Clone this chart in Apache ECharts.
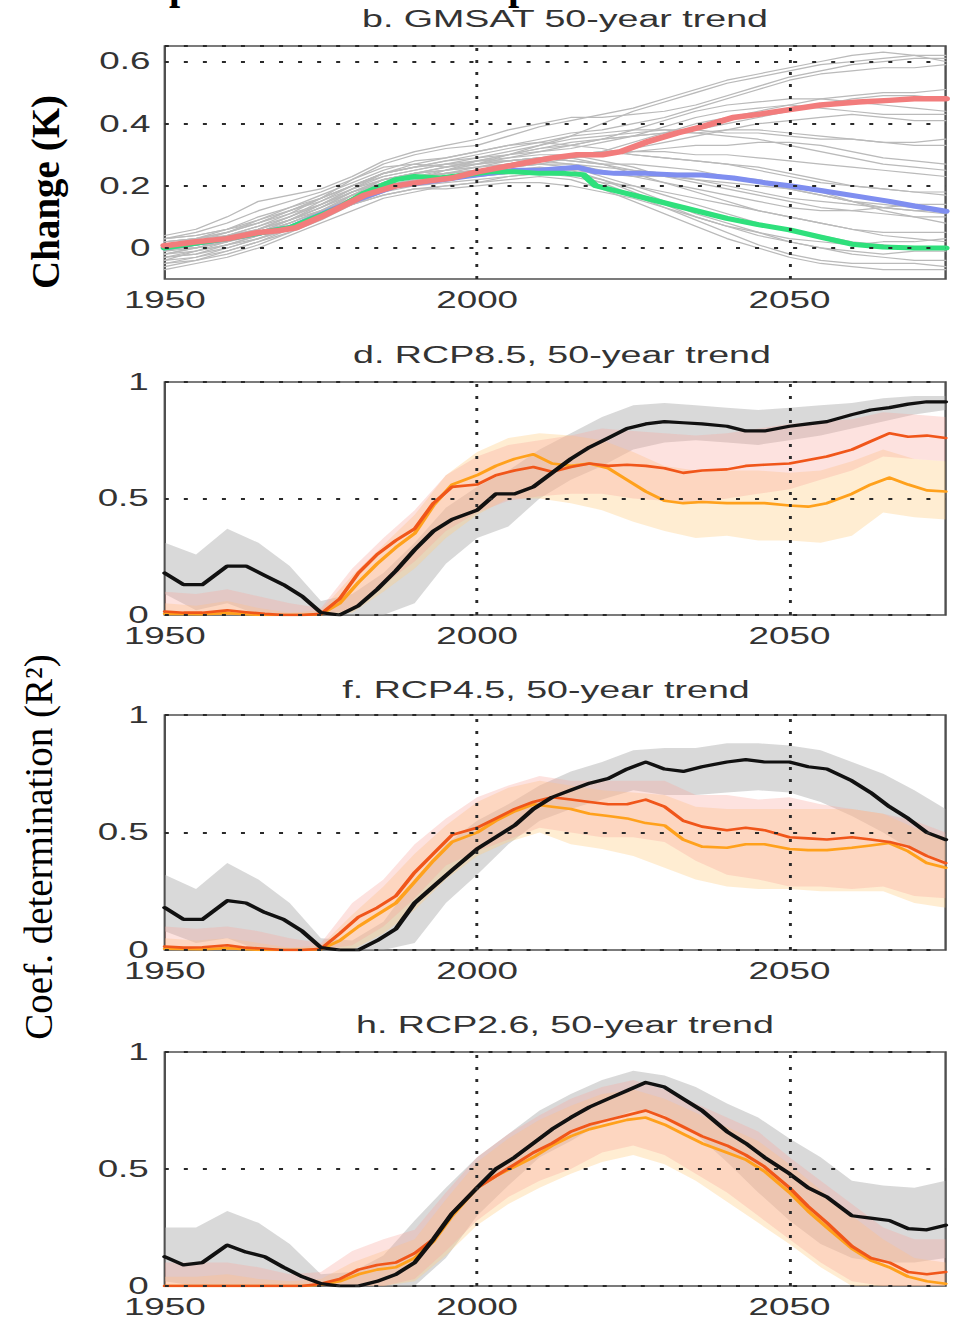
<!DOCTYPE html>
<html><head><meta charset="utf-8">
<script src="https://cdn.jsdelivr.net/npm/echarts@6/dist/echarts.min.js"></script>
<style>
html,body{margin:0;padding:0;background:#fff;overflow:hidden;}
#main{position:absolute;left:0;top:0;width:600px;height:1320px;transform:scaleX(1.6);transform-origin:0 0;}
#over{position:absolute;left:0;top:0;width:960px;height:1320px;pointer-events:none;}
</style></head><body>
<div id="main"></div><div id="over"></div>
<script>
// ---------------- DATA ----------------
const years5 = [1950,1955,1960,1965,1970,1975,1980,1985,1990,1995,2000,2005,2010,2015,2020,2025,2030,2035,2040,2045,2050,2055,2060,2065,2070,2075];

// panel b: model ensemble (GMSAT 50-year trend, K)
const ensRcp85 = [
 [-0.02,0.00,0.02,0.05,0.09,0.14,0.19,0.23,0.25,0.27,0.29,0.31,0.33,0.36,0.40,0.44,0.47,0.50,0.53,0.55,0.57,0.59,0.60,0.61,0.62,0.62],
 [0.03,0.05,0.08,0.12,0.15,0.18,0.22,0.27,0.30,0.32,0.33,0.36,0.39,0.41,0.43,0.45,0.48,0.51,0.54,0.56,0.58,0.60,0.62,0.63,0.62,0.60],
 [-0.05,-0.03,0.00,0.03,0.06,0.10,0.15,0.20,0.22,0.24,0.26,0.28,0.29,0.30,0.31,0.34,0.37,0.40,0.42,0.44,0.46,0.48,0.49,0.50,0.50,0.51],
 [0.01,0.02,0.03,0.04,0.07,0.11,0.17,0.22,0.24,0.25,0.27,0.30,0.32,0.33,0.35,0.38,0.41,0.44,0.46,0.47,0.48,0.48,0.47,0.46,0.45,0.44],
 [-0.03,-0.02,0.01,0.04,0.08,0.12,0.16,0.19,0.21,0.23,0.24,0.26,0.27,0.29,0.30,0.32,0.34,0.36,0.38,0.40,0.41,0.42,0.43,0.42,0.41,0.41],
 [0.02,0.03,0.05,0.09,0.13,0.17,0.21,0.25,0.28,0.29,0.31,0.33,0.35,0.37,0.38,0.40,0.42,0.45,0.48,0.51,0.54,0.56,0.57,0.58,0.58,0.59],
 [-0.01,0.01,0.04,0.07,0.10,0.15,0.20,0.24,0.26,0.28,0.29,0.30,0.31,0.32,0.34,0.36,0.39,0.42,0.44,0.45,0.46,0.45,0.44,0.43,0.43,0.43],
 [0.00,0.02,0.04,0.07,0.11,0.16,0.22,0.26,0.27,0.26,0.27,0.29,0.31,0.33,0.35,0.36,0.37,0.38,0.40,0.42,0.44,0.46,0.48,0.49,0.49,0.48],
 [-0.04,-0.01,0.02,0.06,0.09,0.12,0.14,0.18,0.22,0.25,0.28,0.30,0.33,0.35,0.36,0.37,0.38,0.38,0.37,0.37,0.36,0.35,0.35,0.34,0.34,0.35],
 [0.04,0.06,0.10,0.15,0.17,0.19,0.23,0.28,0.31,0.33,0.35,0.38,0.40,0.42,0.42,0.43,0.44,0.46,0.49,0.52,0.55,0.57,0.59,0.60,0.61,0.61]
];
const ensRcp45 = [
 [-0.02,0.00,0.03,0.06,0.10,0.14,0.18,0.21,0.23,0.24,0.25,0.27,0.29,0.30,0.30,0.31,0.31,0.30,0.30,0.29,0.28,0.27,0.26,0.25,0.24,0.23],
 [0.01,0.02,0.04,0.06,0.09,0.13,0.18,0.22,0.24,0.26,0.28,0.30,0.32,0.34,0.35,0.36,0.37,0.37,0.38,0.38,0.37,0.36,0.35,0.34,0.33,0.33],
 [-0.03,-0.01,0.01,0.04,0.07,0.11,0.15,0.19,0.21,0.22,0.23,0.24,0.25,0.25,0.24,0.23,0.23,0.22,0.21,0.20,0.19,0.17,0.15,0.13,0.12,0.11],
 [0.02,0.03,0.05,0.08,0.12,0.16,0.20,0.23,0.25,0.27,0.28,0.28,0.29,0.28,0.27,0.27,0.26,0.25,0.23,0.21,0.19,0.17,0.15,0.14,0.13,0.12],
 [-0.01,0.00,0.02,0.05,0.09,0.13,0.17,0.20,0.22,0.23,0.24,0.26,0.27,0.27,0.26,0.25,0.24,0.24,0.23,0.22,0.20,0.18,0.15,0.12,0.10,0.08],
 [0.00,0.01,0.03,0.05,0.08,0.12,0.16,0.21,0.24,0.25,0.26,0.27,0.28,0.29,0.30,0.31,0.32,0.33,0.33,0.34,0.34,0.33,0.31,0.29,0.28,0.27],
 [-0.06,-0.04,-0.01,0.02,0.06,0.10,0.14,0.17,0.19,0.20,0.21,0.23,0.24,0.23,0.21,0.20,0.18,0.16,0.14,0.12,0.10,0.08,0.06,0.04,0.03,0.02],
 [0.03,0.04,0.06,0.09,0.12,0.15,0.19,0.24,0.27,0.29,0.31,0.33,0.34,0.33,0.32,0.30,0.29,0.28,0.27,0.26,0.24,0.22,0.20,0.19,0.18,0.17],
 [-0.02,-0.01,0.01,0.03,0.06,0.10,0.15,0.19,0.22,0.24,0.25,0.27,0.29,0.30,0.31,0.30,0.29,0.28,0.27,0.25,0.23,0.21,0.20,0.19,0.18,0.18],
 [0.01,0.03,0.06,0.10,0.13,0.16,0.20,0.24,0.26,0.28,0.30,0.32,0.34,0.36,0.37,0.38,0.38,0.37,0.36,0.35,0.33,0.31,0.29,0.27,0.26,0.25]
];
const ensRcp26 = [
 [-0.03,-0.02,0.00,0.03,0.07,0.12,0.17,0.21,0.23,0.24,0.25,0.26,0.27,0.26,0.23,0.20,0.17,0.14,0.11,0.08,0.06,0.04,0.02,0.01,0.00,0.00],
 [0.00,0.01,0.03,0.06,0.10,0.14,0.19,0.22,0.24,0.26,0.28,0.29,0.30,0.30,0.28,0.26,0.23,0.21,0.19,0.17,0.15,0.13,0.12,0.11,0.10,0.10],
 [-0.07,-0.05,-0.03,0.00,0.04,0.08,0.12,0.16,0.18,0.20,0.21,0.22,0.23,0.22,0.19,0.15,0.11,0.07,0.03,0.00,-0.03,-0.05,-0.06,-0.07,-0.07,-0.07],
 [0.02,0.03,0.04,0.06,0.09,0.13,0.18,0.22,0.24,0.25,0.26,0.27,0.28,0.27,0.25,0.23,0.21,0.19,0.17,0.15,0.13,0.12,0.12,0.13,0.14,0.14],
 [-0.04,-0.03,-0.01,0.02,0.05,0.09,0.14,0.18,0.20,0.21,0.22,0.23,0.24,0.24,0.22,0.19,0.15,0.11,0.08,0.05,0.02,0.00,-0.02,-0.03,-0.04,-0.04],
 [0.01,0.02,0.05,0.08,0.12,0.16,0.20,0.24,0.26,0.27,0.27,0.28,0.29,0.28,0.27,0.25,0.24,0.22,0.20,0.18,0.16,0.15,0.14,0.13,0.12,0.12],
 [-0.01,0.01,0.02,0.04,0.07,0.10,0.14,0.17,0.19,0.19,0.20,0.21,0.21,0.20,0.18,0.16,0.13,0.10,0.07,0.05,0.03,0.02,0.01,0.02,0.02,0.03],
 [0.00,0.00,0.02,0.05,0.08,0.12,0.17,0.21,0.23,0.24,0.25,0.25,0.26,0.25,0.22,0.18,0.14,0.10,0.07,0.04,0.02,0.00,-0.01,-0.02,-0.01,-0.01],
 [-0.05,-0.04,-0.02,0.01,0.05,0.10,0.15,0.19,0.21,0.22,0.23,0.24,0.25,0.24,0.21,0.17,0.13,0.09,0.05,0.01,-0.02,-0.04,-0.05,-0.05,-0.05,-0.06],
 [0.03,0.04,0.06,0.08,0.11,0.14,0.18,0.21,0.23,0.25,0.27,0.28,0.29,0.29,0.27,0.24,0.21,0.18,0.15,0.12,0.10,0.08,0.06,0.05,0.05,0.05]
];

// panel b: scenario means
const redYears = [1950,1955,1960,1965,1968,1971,1975,1978,1982,1987,1992,1996,2000,2004,2008,2012,2016,2020,2023,2027,2032,2036,2041,2045,2050,2055,2061,2066,2070,2075];
const redB = [0.007,0.02,0.03,0.05,0.055,0.065,0.10,0.13,0.17,0.20,0.215,0.225,0.245,0.26,0.275,0.29,0.30,0.30,0.31,0.34,0.37,0.39,0.42,0.43,0.445,0.46,0.47,0.475,0.48,0.48];
const blueYears = [1950,1960,1970,1980,1987,1993,1998,2002,2006,2010,2013,2016,2019,2022,2027,2032,2036,2041,2046,2050,2055,2061,2066,2070,2075];
const blueB = [0.0,0.03,0.065,0.15,0.2,0.215,0.23,0.24,0.25,0.25,0.255,0.26,0.245,0.24,0.24,0.235,0.235,0.225,0.21,0.2,0.185,0.166,0.15,0.135,0.118];
const greenYears = [1950,1960,1970,1978,1982,1987,1990,1994,1998,2002,2006,2010,2014,2017,2019,2022,2026,2030,2035,2040,2045,2050,2055,2060,2065,2070,2075];
const greenB = [0.0,0.03,0.065,0.13,0.177,0.22,0.23,0.225,0.235,0.245,0.245,0.24,0.24,0.236,0.2,0.185,0.165,0.145,0.12,0.095,0.075,0.058,0.035,0.012,0.003,0.0,0.0];

// panels d, f, h: R^2 lines
const lineYears = [1950,1953,1956,1960,1963,1966,1969,1972,1975,1978,1981,1984,1987,1990,1993,1996,2000,2003,2006,2009,2012,2015,2018,2021,2024,2027,2030,2033,2036,2040,2043,2046,2050,2053,2056,2060,2063,2066,2069,2072,2075];

const blackD = [0.18,0.13,0.13,0.21,0.21, 0.17,0.13,0.08,0.01,0.0, 0.04,0.11,0.19,0.28,0.36, 0.41,0.45,0.52,0.52,0.55, 0.61,0.67,0.72,0.76,0.80, 0.82,0.83,0.825,0.82,0.81, 0.79,0.79,0.81,0.82,0.83, 0.86,0.88,0.89,0.905,0.915, 0.915];
const redD = [0.015,0.01,0.01,0.02,0.012, 0.005,0.0,0.0,0.005,0.07, 0.18,0.26,0.32,0.37,0.48, 0.55,0.56,0.60,0.62,0.635, 0.615,0.635,0.65,0.64,0.645, 0.64,0.63,0.61,0.62,0.625, 0.64,0.645,0.65,0.665,0.68, 0.71,0.745,0.78,0.765,0.77, 0.76];
const orangeD = [0.005,0.005,0.003,0.008,0.003, 0.0,0.0,0.0,0.003,0.05, 0.14,0.22,0.29,0.35,0.47, 0.56,0.60,0.64,0.67,0.69, 0.65,0.64,0.65,0.63,0.58, 0.53,0.49,0.48,0.485,0.48, 0.48,0.48,0.47,0.465,0.48, 0.52,0.56,0.59,0.56,0.535, 0.53];

const blackF = [0.18,0.13,0.13,0.21,0.20, 0.16,0.13,0.08,0.01,0.0, 0.0,0.04,0.09,0.20,0.27, 0.34,0.43,0.48,0.53,0.60, 0.65,0.68,0.71,0.73,0.77, 0.80,0.77,0.76,0.78,0.80, 0.81,0.80,0.80,0.78,0.77, 0.72,0.67,0.61,0.56,0.50, 0.47];
const redF = [0.015,0.01,0.012,0.02,0.01, 0.005,0.0,0.0,0.005,0.07, 0.14,0.18,0.23,0.33,0.41, 0.49,0.52,0.56,0.60,0.63, 0.65,0.64,0.63,0.62,0.62, 0.64,0.61,0.55,0.525,0.51, 0.52,0.51,0.48,0.475,0.47, 0.48,0.47,0.46,0.44,0.40, 0.37];
const orangeF = [0.005,0.004,0.003,0.008,0.003, 0.0,0.0,0.0,0.003,0.04, 0.10,0.15,0.20,0.29,0.38, 0.46,0.50,0.55,0.59,0.62, 0.61,0.60,0.58,0.57,0.56, 0.54,0.53,0.47,0.44,0.435, 0.45,0.45,0.43,0.425,0.425, 0.435,0.445,0.455,0.42,0.37, 0.35];

const blackH = [0.125,0.09,0.10,0.175,0.145, 0.125,0.08,0.04,0.01,0.0, 0.0,0.02,0.05,0.10,0.20, 0.31,0.42,0.50,0.55,0.61, 0.67,0.72,0.765,0.80,0.835, 0.87,0.85,0.80,0.75,0.66, 0.61,0.55,0.48,0.42,0.38, 0.30,0.29,0.28,0.245,0.24, 0.26];
const redH = [0,0,0,0,0, 0,0,0,0.01,0.03, 0.07,0.09,0.10,0.14,0.20, 0.31,0.42,0.47,0.52,0.57, 0.61,0.66,0.69,0.71,0.73, 0.75,0.72,0.68,0.64,0.60, 0.56,0.51,0.42,0.34,0.27, 0.17,0.12,0.10,0.06,0.05, 0.06];
const orangeH = [0,0,0,0,0, 0,0,0,0.005,0.02, 0.05,0.07,0.08,0.12,0.19, 0.30,0.42,0.47,0.51,0.55, 0.60,0.64,0.67,0.69,0.71, 0.72,0.69,0.65,0.61,0.57, 0.54,0.49,0.40,0.32,0.25, 0.16,0.11,0.08,0.04,0.02, 0.01];

// panels d, f, h: spread bands (on years5)
const grayHiD = [0.31,0.26,0.37,0.31,0.21, 0.06,0.09,0.18,0.31,0.46, 0.55,0.62,0.71,0.78,0.85, 0.90,0.91,0.90,0.89,0.88, 0.89,0.90,0.91,0.93,0.94, 0.94];
const grayLoD = [0.09,0.02,0.05,0.0,0.0, 0.0,0.0,0.0,0.05,0.22, 0.33,0.38,0.50,0.58,0.64, 0.71,0.74,0.75,0.74,0.73, 0.75,0.77,0.80,0.83,0.86, 0.88];
const pinkHiD = [0.10,0.09,0.11,0.08,0.05, 0.03,0.20,0.33,0.45,0.60, 0.68,0.73,0.75,0.77,0.80, 0.79,0.78,0.77,0.78,0.80, 0.82,0.83,0.84,0.87,0.86, 0.85];
const pinkLoD = [0,0,0,0,0, 0,0.02,0.13,0.23,0.36, 0.44,0.49,0.51,0.52,0.52, 0.50,0.49,0.48,0.50,0.52, 0.54,0.58,0.62,0.68,0.67, 0.66];
const orngHiD = [0.05,0.04,0.06,0.03,0.01, 0.02,0.17,0.30,0.43,0.60, 0.70,0.76,0.78,0.77,0.75, 0.70,0.64,0.62,0.62,0.62, 0.61,0.62,0.66,0.71,0.67, 0.66];
const orngLoD = [0,0,0,0,0, 0,0.01,0.10,0.20,0.33, 0.43,0.50,0.50,0.48,0.45, 0.40,0.36,0.33,0.34,0.32, 0.32,0.31,0.34,0.44,0.42, 0.41];

const grayHiF = [0.32,0.26,0.37,0.30,0.20, 0.05,0.04,0.12,0.30,0.45, 0.55,0.62,0.70,0.76,0.80, 0.85,0.86,0.86,0.88,0.88, 0.87,0.85,0.80,0.75,0.68, 0.60];
const grayLoF = [0.08,0.03,0.05,0,0, 0,0,0,0.03,0.20, 0.32,0.45,0.55,0.60,0.64, 0.68,0.66,0.66,0.67,0.68, 0.67,0.63,0.57,0.50,0.42, 0.38];
const pinkHiF = [0.10,0.09,0.10,0.08,0.05, 0.03,0.20,0.30,0.45,0.56, 0.65,0.70,0.74,0.72,0.72, 0.72,0.72,0.66,0.66,0.64, 0.65,0.62,0.60,0.58,0.55, 0.50];
const pinkLoF = [0,0,0,0,0, 0,0.02,0.10,0.22,0.36, 0.42,0.47,0.52,0.50,0.48, 0.48,0.46,0.38,0.32,0.30, 0.27,0.27,0.26,0.27,0.23, 0.22];
const orngHiF = [0.05,0.04,0.05,0.03,0.01, 0.02,0.15,0.27,0.41,0.53, 0.63,0.69,0.72,0.70,0.68, 0.67,0.66,0.61,0.60,0.60, 0.60,0.60,0.60,0.58,0.52, 0.48];
const orngLoF = [0,0,0,0,0, 0,0,0.07,0.17,0.30, 0.40,0.46,0.50,0.45,0.43, 0.40,0.35,0.30,0.27,0.26, 0.26,0.25,0.25,0.25,0.20, 0.18];

const grayHiH = [0.25,0.25,0.32,0.27,0.18, 0.05,0.06,0.13,0.28,0.42, 0.55,0.65,0.75,0.82,0.88, 0.92,0.90,0.85,0.78,0.72, 0.63,0.55,0.45,0.43,0.42, 0.45];
const grayLoH = [0.02,0,0,0,0, 0,0,0,0,0.12, 0.30,0.43,0.55,0.62,0.70, 0.75,0.73,0.65,0.53,0.40, 0.28,0.18,0.12,0.10,0.10, 0.12];
const pinkHiH = [0.10,0.10,0.10,0.08,0.05, 0.06,0.15,0.20,0.24,0.40, 0.55,0.65,0.73,0.80,0.85, 0.88,0.84,0.78,0.72,0.66, 0.55,0.45,0.35,0.25,0.20, 0.20];
const pinkLoH = [0,0,0,0,0, 0,0,0,0.03,0.15, 0.28,0.38,0.45,0.50,0.57, 0.60,0.56,0.48,0.40,0.30, 0.20,0.10,0.02,0,0, 0];
const orngHiH = [0.04,0.04,0.05,0.03,0.02, 0.03,0.10,0.15,0.20,0.37, 0.53,0.63,0.71,0.77,0.82, 0.84,0.80,0.74,0.68,0.62, 0.52,0.41,0.30,0.20,0.12, 0.10];
const orngLoH = [0,0,0,0,0, 0,0,0,0.02,0.13, 0.26,0.35,0.42,0.48,0.53, 0.56,0.52,0.45,0.36,0.27, 0.18,0.08,0,0,0, 0];

const titles = ['b. GMSAT 50-year trend','d. RCP8.5, 50-year trend','f. RCP4.5, 50-year trend','h. RCP2.6, 50-year trend'];
const xTicks = [1950, 2000, 2050];

// ---------------- LAYOUT / STYLE ----------------
const S = 1.6;               // horizontal stretch of the whole figure
const layout = [
  {top:46, height:233, titleX:565, titleY:19},
  {top:382, height:233, titleX:562, titleY:355},
  {top:715, height:235, titleX:546, titleY:690},
  {top:1052, height:234, titleX:565, titleY:1025}
];
const FONT = '"Liberation Sans", Arial, sans-serif';
const VDOT = {type:[3,9], color:'#2a2a2a', width:1.8, opacity:1};
const HDOT = {type:[2.5,9.4], color:'#2a2a2a', width:1.8, opacity:1};

function P(xs, ys){ return xs.map((x,i)=>[x, ys[i]]); }
function lineS(gi, xs, ys, color, width){
  return {type:'line', xAxisIndex:gi, yAxisIndex:gi, data:P(xs,ys), symbol:'none', showSymbol:false,
    silent:true, animation:false, emphasis:{disabled:true},
    lineStyle:{color:color, width:width, join:'round', cap:'round'}};
}
function bandS(gi, xs, lo, hi, color){
  const rows = xs.map((x,i)=>[x, lo[i], hi[i]]);
  return {type:'custom', xAxisIndex:gi, yAxisIndex:gi, data:rows, encode:{x:0, y:[1,2]},
    silent:true, animation:false, clip:true,
    renderItem:(params, api)=>{
      if (params.dataIndex !== 0) return null;
      const up = rows.map(r=>api.coord([r[0], r[2]]));
      const dn = rows.slice().reverse().map(r=>api.coord([r[0], r[1]]));
      return {type:'polygon', shape:{points:up.concat(dn)}, style:{fill:color, stroke:null}};
    }};
}
function gridLineS(gi, hVals){
  const data = xTicks.slice(1).map(v=>({xAxis:v, lineStyle:VDOT}))
    .concat(hVals.map(v=>({yAxis:v, lineStyle:HDOT})));
  return {type:'line', xAxisIndex:gi, yAxisIndex:gi, data:[], silent:true, animation:false,
    markLine:{silent:true, animation:false, symbol:['none','none'], label:{show:false},
      emphasis:{disabled:true}, data:data}};
}

const grids=[], xAxes=[], yAxes=[], series=[], graphics=[];
layout.forEach((L,i)=>{
  grids.push({left:103, width:488, top:L.top, height:L.height, show:true, borderColor:'#505050',
    borderWidth:1.5, backgroundColor:'#fff', containLabel:false, outerBoundsMode:'none'});
  xAxes.push({gridIndex:i, type:'value', min:1950, max:2075, interval:50,
    axisLine:{show:false}, axisTick:{show:false}, splitLine:{show:false},
    axisLabel:{showMinLabel:true, showMaxLabel:false, fontSize:23, color:'#333', fontFamily:FONT, margin:10,
      formatter:v=> (xTicks.indexOf(Math.round(v))>=0 ? String(Math.round(v)) : '')}});
  graphics.push({type:'text', x:L.titleX/S, y:L.titleY, silent:true,
    style:{text:titles[i], font:'23.5px '+FONT, fill:'#333', align:'center', verticalAlign:'middle',
      textAlign:'center', textVerticalAlign:'middle'}});
});
// y axes
yAxes.push({gridIndex:0, type:'value', min:-0.1, max:0.65, interval:0.05,
  axisLine:{show:false}, axisTick:{show:false}, splitLine:{show:false},
  axisLabel:{fontSize:23, color:'#333', fontFamily:FONT, margin:9,
    formatter:v=>{const k=Math.round(v*100); return (k>=0 && k%20===0) ? (k===0?'0':String(k/100)) : '';}}});
for (let i=1;i<4;i++){
  yAxes.push({gridIndex:i, type:'value', min:0, max:1, interval:0.5,
    axisLine:{show:false}, axisTick:{show:false}, splitLine:{show:false},
    axisLabel:{fontSize:23, color:'#333', fontFamily:FONT, margin:10,
      formatter:v=>{const k=Math.round(v*10); return k===0?'0':(k===10?'1':String(k/10));}}});
}

// ---- panel b ----
[ensRcp85, ensRcp45, ensRcp26].forEach(group=>{
  group.forEach(arr=>series.push(lineS(0, years5, arr, '#bababa', 1.2)));
});
series.push(gridLineS(0, [0, 0.2, 0.4, 0.6, 0.65]));
series.push(lineS(0, blueYears, blueB, '#7f8ef0', 5));
series.push(lineS(0, greenYears, greenB, '#2fe07c', 5));
series.push(lineS(0, redYears, redB, '#f27c7c', 5.5));

// ---- panels d, f, h ----
const GRAYB = 'rgba(175,175,175,0.48)';
const ORNGB = 'rgba(255,205,130,0.36)';
const PINKB = 'rgba(248,165,155,0.32)';
const panels = [
  {gi:1, gHi:grayHiD, gLo:grayLoD, pHi:pinkHiD, pLo:pinkLoD, oHi:orngHiD, oLo:orngLoD, k:blackD, r:redD, o:orangeD},
  {gi:2, gHi:grayHiF, gLo:grayLoF, pHi:pinkHiF, pLo:pinkLoF, oHi:orngHiF, oLo:orngLoF, k:blackF, r:redF, o:orangeF},
  {gi:3, gHi:grayHiH, gLo:grayLoH, pHi:pinkHiH, pLo:pinkLoH, oHi:orngHiH, oLo:orngLoH, k:blackH, r:redH, o:orangeH}
];
panels.forEach(p=>{
  series.push(bandS(p.gi, years5, p.gLo, p.gHi, GRAYB));
  series.push(bandS(p.gi, years5, p.oLo, p.oHi, ORNGB));
  series.push(bandS(p.gi, years5, p.pLo, p.pHi, PINKB));
  series.push(gridLineS(p.gi, [0, 0.5, 1]));
  series.push(lineS(p.gi, lineYears, p.o, '#ffa11c', 2.6));
  series.push(lineS(p.gi, lineYears, p.r, '#f0561a', 2.6));
  series.push(lineS(p.gi, lineYears, p.k, '#111111', 3.2));
});

const chart = echarts.init(document.getElementById('main'), null, {renderer:'svg'});
chart.setOption({
  backgroundColor:'#fff',
  animation:false,
  textStyle:{fontFamily:FONT},
  grid:grids, xAxis:xAxes, yAxis:yAxes, series:series,
  graphic:{elements:graphics}
});

// ---- unstretched overlay: serif axis labels ----
const over = echarts.init(document.getElementById('over'), null, {renderer:'svg'});
over.setOption({
  backgroundColor:'transparent',
  animation:false,
  graphic:{elements:[
    {type:'text', x:45, y:192, rotation:Math.PI/2, silent:true,
     style:{text:'Change (K)', font:'bold 39px "Liberation Serif", serif', fill:'#000',
       align:'center', verticalAlign:'middle', textAlign:'center', textVerticalAlign:'middle'}},
    {type:'text', x:38, y:847, rotation:Math.PI/2, silent:true,
     style:{text:'Coef. determination (R\u00B2)', font:'39px "Liberation Serif", serif', fill:'#000',
       align:'center', verticalAlign:'middle', textAlign:'center', textVerticalAlign:'middle'}},
    {type:'text', x:180, y:-15, silent:true,
     style:{text:'p', font:'bold 40px "Liberation Serif", serif', fill:'#000',
       align:'center', verticalAlign:'middle', textAlign:'center', textVerticalAlign:'middle'}},
    {type:'text', x:519, y:-15, silent:true,
     style:{text:'p', font:'bold 40px "Liberation Serif", serif', fill:'#000',
       align:'center', verticalAlign:'middle', textAlign:'center', textVerticalAlign:'middle'}}
  ]}
});
</script>
</body></html>
